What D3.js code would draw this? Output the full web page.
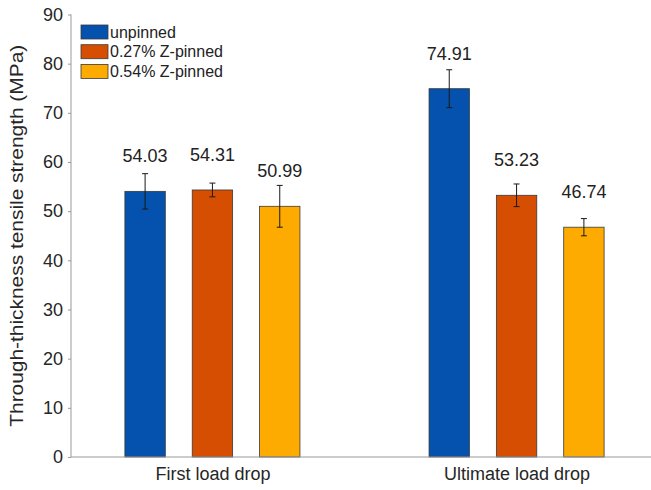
<!DOCTYPE html>
<html>
<head>
<meta charset="utf-8">
<script src="https://cdn.jsdelivr.net/npm/d3@7"></script>
<style>
  html, body { margin: 0; padding: 0; background: #fff; }
  svg { display: block; font-family: "Liberation Sans", Arial, Helvetica, sans-serif; }
</style>
</head>
<body>
<svg id="chart" width="651" height="490"></svg>
<script>
// Load-drop categories and specimen series
const categories = ["First load drop", "Ultimate load drop"];
const seriesNames = ["unpinned", "0.27% Z-pinned", "0.54% Z-pinned"];
const seriesColors = ["#0451ae", "#d64e02", "#fdab00"];

// Mean strength (MPa) per series, one entry per category
const unpinned = [54.03, 74.91];
const pinned027 = [54.31, 53.23];
const pinned054 = [50.99, 46.74];

// Standard deviation (MPa) for the error bars
const errUnpinned = [3.6, 3.85];
const errPinned027 = [1.4, 2.3];
const errPinned054 = [4.25, 1.75];

const yTicks = [0, 10, 20, 30, 40, 50, 60, 70, 80, 90];

const values = [unpinned, pinned027, pinned054];
const errors = [errUnpinned, errPinned027, errPinned054];

const rows = [];
seriesNames.forEach((s, si) => {
  categories.forEach((c, ci) => {
    rows.push({ series: s, si, category: c, value: values[si][ci], err: errors[si][ci] });
  });
});

const svg = d3.select("#chart");
const axisLeft = 71, axisRight = 658, axisTop = 14.5, axisBottom = 457;

const x = d3.scalePoint().domain(categories).range([axisLeft, axisRight]).padding(0.465);
const xs = d3.scaleBand().domain(seriesNames).range([-101, 101]).paddingInner(0.4).paddingOuter(0.2);
const y = d3.scaleLinear().domain([0, 90]).range([axisBottom, axisTop]);

// Bars
svg.append("g").selectAll("rect").data(rows).join("rect")
  .attr("x", d => x(d.category) + xs(d.series))
  .attr("width", xs.bandwidth())
  .attr("y", d => y(d.value))
  .attr("height", d => y(0) - y(d.value))
  .attr("fill", d => seriesColors[d.si])
  .attr("stroke", "#3a3a3a")
  .attr("stroke-width", 0.8);

// Error bars
const eb = svg.append("g").attr("stroke", "#1a1a1a").attr("stroke-width", 1).attr("fill", "none");
rows.forEach(d => {
  const cx = x(d.category) + xs(d.series) + xs.bandwidth() / 2;
  const yt = y(d.value + d.err), yb = y(d.value - d.err);
  eb.append("line").attr("x1", cx).attr("x2", cx).attr("y1", yt).attr("y2", yb);
  eb.append("line").attr("x1", cx - 3).attr("x2", cx + 3).attr("y1", yt).attr("y2", yt);
  eb.append("line").attr("x1", cx - 3).attr("x2", cx + 3).attr("y1", yb).attr("y2", yb);
});

// Value labels
svg.append("g").selectAll("text").data(rows).join("text")
  .attr("x", d => x(d.category) + xs(d.series) + xs.bandwidth() / 2)
  .attr("y", d => y(d.value) - 29)
  .attr("text-anchor", "middle")
  .attr("font-size", 18)
  .attr("fill", "#222")
  .text(d => d.value.toFixed(2));

// Y axis
const yAxis = svg.append("g")
  .attr("transform", `translate(${axisLeft},0)`)
  .call(d3.axisLeft(y).tickValues(yTicks).tickSize(3).tickPadding(5).tickFormat(d3.format("d")));
yAxis.select(".domain").attr("stroke", "#999").attr("d", `M0,${axisTop}V${axisBottom}`);
yAxis.selectAll(".tick line").attr("stroke", "#999");
yAxis.selectAll(".tick text").attr("font-size", 18).attr("fill", "#262626")
  .attr("font-family", "Liberation Sans, Arial, sans-serif");

// X axis
const xAxis = svg.append("g")
  .attr("transform", `translate(0,${axisBottom})`)
  .call(d3.axisBottom(x).tickSize(0).tickPadding(0));
xAxis.select(".domain").attr("stroke", "#999").attr("d", `M${axisLeft},0H${axisRight}`);
xAxis.selectAll(".tick text").attr("font-size", 18).attr("fill", "#262626")
  .attr("font-family", "Liberation Sans, Arial, sans-serif")
  .attr("dy", null).attr("y", 22.5);

// Y axis title
svg.append("text")
  .attr("transform", `translate(23,${(axisTop + axisBottom) / 2}) rotate(-90)`)
  .attr("text-anchor", "middle")
  .attr("font-size", 18.5)
  .attr("textLength", 382)
  .attr("lengthAdjust", "spacingAndGlyphs")
  .attr("fill", "#262626")
  .text("Through-thickness tensile strength (MPa)");

// Legend
const legend = svg.append("g").attr("transform", "translate(81,25)");
seriesNames.forEach((s, i) => {
  const g = legend.append("g").attr("transform", `translate(0,${i * 19.7})`);
  g.append("rect").attr("width", 27).attr("height", 14)
    .attr("fill", seriesColors[i]).attr("stroke", "#3a3a3a").attr("stroke-width", 0.8);
  g.append("text").attr("x", 29).attr("y", 7).attr("dy", "0.36em")
    .attr("font-size", 16).attr("fill", "#222").text(s);
});
</script>
</body>
</html>
